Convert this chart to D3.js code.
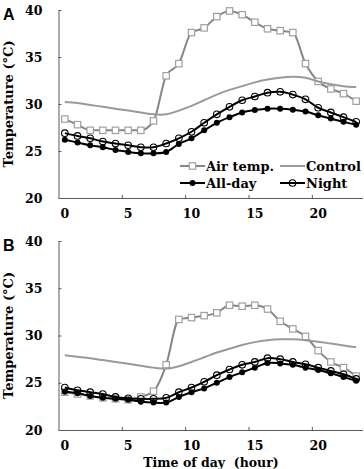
<!DOCTYPE html>
<html>
<head>
<meta charset="utf-8">
<script src="https://cdn.jsdelivr.net/npm/d3@7"></script>
<style>
  body{margin:0;background:#fff}
</style>
</head>
<body>
<div id="chart"></div>
<script>
// hours of the day (categories)
let hours = [0,1,2,3,4,5,6,7,8,9,10,11,12,13,14,15,16,17,18,19,20,21,22,23]
let xTickLabels = [0,5,10,15,20]
let yTickLabels = [20,25,30,35,40]
let seriesNames = ['Air temp.','Control','All-day','Night']

// panel A
let airA    = [28.4,27.8,27.2,27.2,27.2,27.2,27.2,28.2,33.0,34.3,37.6,38.1,39.3,39.9,39.5,38.7,38.0,37.8,37.6,34.3,32.4,31.6,31.1,30.3]
let controlA= [30.2,30.1,29.9,29.7,29.5,29.3,29.1,28.9,28.9,29.3,29.8,30.4,31.0,31.5,31.9,32.3,32.6,32.8,32.9,32.8,32.4,32.1,31.9,31.8]
let alldayA = [26.2,25.9,25.6,25.4,25.1,24.9,24.75,24.75,24.9,25.75,26.35,27.2,28.0,28.6,29.1,29.35,29.5,29.5,29.4,29.2,28.8,28.45,28.1,27.8]
let nightA  = [26.9,26.6,26.35,26.0,25.8,25.6,25.4,25.4,25.8,26.35,27.05,28.0,28.9,29.7,30.4,30.8,31.2,31.3,31.0,30.5,29.6,29.1,28.6,28.1]

// panel B
let airB    = [24.0,23.8,23.6,23.4,23.3,23.2,23.5,24.1,26.9,31.7,31.9,32.1,32.4,33.2,33.1,33.2,32.8,31.5,30.7,29.9,28.4,27.2,26.6,25.7]
let controlB= [27.9,27.75,27.6,27.4,27.2,27.0,26.8,26.6,26.5,26.75,27.2,27.7,28.2,28.6,29.0,29.3,29.5,29.6,29.6,29.5,29.35,29.15,28.95,28.75]
let alldayB = [24.05,23.9,23.6,23.4,23.3,23.2,23.0,22.9,22.9,23.5,24.0,24.4,25.0,25.6,26.1,26.6,27.1,27.05,26.9,26.6,26.35,26.0,25.6,25.2]
let nightB  = [24.5,24.2,24.0,23.8,23.5,23.35,23.3,23.3,23.4,24.0,24.5,25.1,25.8,26.4,26.9,27.2,27.6,27.5,27.2,26.95,26.6,26.25,25.9,25.4]

let W = 364, H = 469
let serif = "'DejaVu Serif', serif"
let axisColor = '#5a5a5a'
let airLine = '#868686', airMarker = '#a0a0a0', controlColor = '#9a9a9a'

let svg = d3.select('#chart').append('svg')
            .attr('width',W)
            .attr('height',H)

let xBand = d3.scaleBand().domain(hours).range([58.5,362.5])
let xLin = d3.scaleLinear().domain([0,24]).range([58.5,362.5])

function label(sel,size){
    return sel.attr('font-family',serif).attr('font-weight','bold').attr('font-size',size).attr('fill','#000')
}

function drawPanel(top,bottom,letter,air,control,allday,night,legend){
    let y = d3.scaleLinear().domain([20,40]).range([bottom,top])
    let g = svg.append('g')
    let px = (d,i)=> xBand(hours[i]) + xBand.bandwidth()/2

    // y axis
    g.append('g')
        .attr('transform','translate(58.5,0)')
        .call(d3.axisLeft(y).tickValues(yTickLabels).tickSize(-3).tickSizeOuter(0).tickPadding(16))
        .call(s=>s.attr('font-family',serif))
        .call(s=>s.selectAll('path,line').attr('stroke',axisColor))
        .call(s=>label(s.selectAll('text'),12.5))

    // x axis line + inner tick marks
    g.append('g')
        .attr('transform','translate(0,'+bottom+')')
        .call(d3.axisBottom(xLin).tickValues([5,10,15,20]).tickSize(-3).tickSizeOuter(0).tickFormat(''))
        .call(s=>s.selectAll('path,line').attr('stroke',axisColor))

    // x tick labels at category centres
    g.append('g')
        .attr('transform','translate(0,'+bottom+')')
        .call(d3.axisBottom(xBand).tickValues(xTickLabels).tickSize(0).tickPadding(11.5))
        .call(s=>s.attr('font-family',serif))
        .call(s=>s.select('.domain').remove())
        .call(s=>label(s.selectAll('text'),12.5))

    // y title
    label(g.append('text'),13)
        .attr('transform','translate(13,'+((top+bottom)/2)+') rotate(-90)')
        .attr('text-anchor','middle')
        .text('Temperature (°C)')

    // panel letter
    g.append('text')
        .attr('x',3)
        .attr('y',top+9.5)
        .attr('font-size',16)
        .attr('font-weight','bold')
        .attr('font-family','Liberation Sans, Arial, sans-serif')
        .text(letter)

    let smooth = d3.line().x(px).y(d=>y(d)).curve(d3.curveCatmullRom.alpha(0.5))
    let mono = d3.line().x(px).y(d=>y(d)).curve(d3.curveMonotoneX)

    // air temperature
    g.append('path').attr('d',mono(air)).attr('fill','none').attr('stroke',airLine).attr('stroke-width',2)
    g.append('g').selectAll('rect').data(air).enter()
        .append('rect')
        .attr('x',(d,i)=>px(d,i)-3.2)
        .attr('y',d=>y(d)-3.2)
        .attr('width',6.4)
        .attr('height',6.4)
        .attr('fill','#fff')
        .attr('stroke',airMarker)
        .attr('stroke-width',1.2)

    // control
    g.append('path').attr('d',smooth(control)).attr('fill','none').attr('stroke',controlColor).attr('stroke-width',2)

    // all-day
    g.append('path').attr('d',smooth(allday)).attr('fill','none').attr('stroke','#000').attr('stroke-width',2)
    g.append('g').selectAll('circle').data(allday).enter()
        .append('circle')
        .attr('cx',px)
        .attr('cy',d=>y(d))
        .attr('r',3)
        .attr('fill','#000')

    // night
    g.append('path').attr('d',smooth(night)).attr('fill','none').attr('stroke','#000').attr('stroke-width',2)
    g.append('g').selectAll('circle').data(night).enter()
        .append('circle')
        .attr('cx',px)
        .attr('cy',d=>y(d))
        .attr('r',3.3)
        .attr('fill','none')
        .attr('stroke','#000')
        .attr('stroke-width',1.1)

    if(legend){
        let items = [
            {name:seriesNames[0],x:180,y:166,color:airLine,marker:'square'},
            {name:seriesNames[1],x:280,y:166,color:controlColor,marker:null},
            {name:seriesNames[2],x:180,y:183,color:'#000',marker:'dot'},
            {name:seriesNames[3],x:280,y:183,color:'#000',marker:'circle'}
        ]
        let lg = g.append('g').selectAll('g').data(items).enter().append('g')
        lg.append('line')
            .attr('x1',d=>d.x).attr('x2',d=>d.x+25)
            .attr('y1',d=>d.y).attr('y2',d=>d.y)
            .attr('stroke',d=>d.color).attr('stroke-width',2)
        lg.filter(d=>d.marker=='square').append('rect')
            .attr('x',d=>d.x+12.5-3.2).attr('y',d=>d.y-3.2)
            .attr('width',6.4).attr('height',6.4)
            .attr('fill','#fff').attr('stroke',airMarker).attr('stroke-width',1.2)
        lg.filter(d=>d.marker=='dot').append('circle')
            .attr('cx',d=>d.x+12.5).attr('cy',d=>d.y).attr('r',3).attr('fill','#000')
        lg.filter(d=>d.marker=='circle').append('circle')
            .attr('cx',d=>d.x+12.5).attr('cy',d=>d.y).attr('r',3.3)
            .attr('fill','none').attr('stroke','#000').attr('stroke-width',1.1)
        label(lg.append('text'),13)
            .attr('x',d=>d.x+26)
            .attr('y',d=>d.y+4.5)
            .text(d=>d.name)
    }
}

drawPanel(10,198,'A',airA,controlA,alldayA,nightA,true)
drawPanel(241,430,'B',airB,controlB,alldayB,nightB,false)

// x axis title
label(svg.append('text'),12.5)
    .attr('x',211)
    .attr('y',467)
    .attr('text-anchor','middle')
    .attr('xml:space','preserve')
    .text('Time of day  (hour)')
</script>
</body>
</html>
